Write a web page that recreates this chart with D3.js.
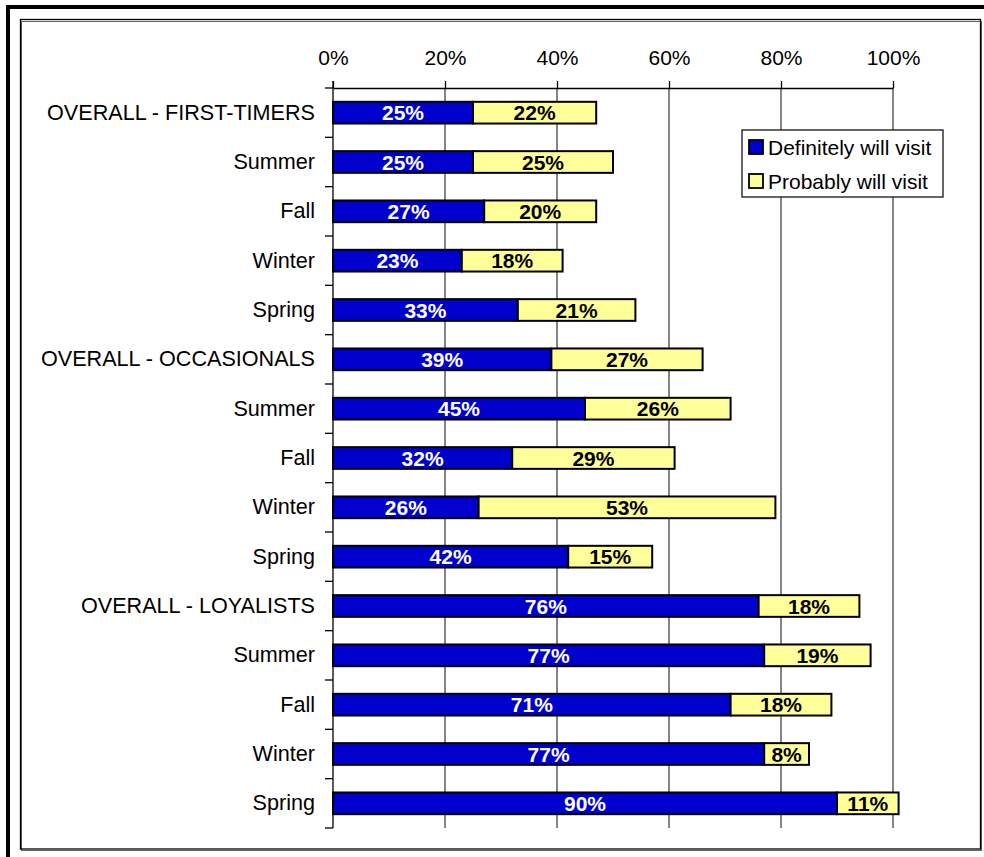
<!DOCTYPE html>
<html>
<head>
<meta charset="utf-8">
<script src="https://cdn.jsdelivr.net/npm/d3@7"></script>
<style>
  html, body { margin: 0; padding: 0; background: #fff; }
  svg { display: block; font-family: "Liberation Sans", Arial, sans-serif; }
</style>
</head>
<body>
<svg id="chart" width="984" height="857"></svg>
<script>
// Visit intention by segment and season
const categories = [
  "OVERALL - FIRST-TIMERS", "Summer", "Fall", "Winter", "Spring",
  "OVERALL - OCCASIONALS", "Summer", "Fall", "Winter", "Spring",
  "OVERALL - LOYALISTS", "Summer", "Fall", "Winter", "Spring"
];
const definitely = [25, 25, 27, 23, 33, 39, 45, 32, 26, 42, 76, 77, 71, 77, 90];
const probably   = [22, 25, 20, 18, 21, 27, 26, 29, 53, 15, 18, 19, 18, 8, 11];
const seriesNames = ["Definitely will visit", "Probably will visit"];
const tickValues = [0, 20, 40, 60, 80, 100];

const colors = ["#0000CC", "#FFFF99"];
const labelColors = ["#FFFFFF", "#000000"];

const svg = d3.select("#chart");
const plot = { left: 333, right: 893, top: 88, bottom: 828 };

// Frames
svg.append("line").attr("x1", 8).attr("y1", 7).attr("x2", 984).attr("y2", 7)
  .attr("stroke", "#000").attr("stroke-width", 4);
svg.append("line").attr("x1", 8).attr("y1", 5).attr("x2", 8).attr("y2", 857)
  .attr("stroke", "#000").attr("stroke-width", 4);
svg.append("rect").attr("x", 21.5).attr("y", 21.5).attr("width", 960).attr("height", 829)
  .attr("fill", "none").attr("stroke", "#666").attr("stroke-width", 1);
svg.append("rect").attr("x", 20.5).attr("y", 19.5).attr("width", 960).attr("height", 829.5)
  .attr("fill", "none").attr("stroke", "#000").attr("stroke-width", 1.3);

const x = d3.scaleLinear().domain([0, 100]).range([plot.left, plot.right]);
const y = d3.scaleBand()
  .domain(d3.range(categories.length))
  .range([plot.top, plot.bottom])
  .paddingInner(0.56)
  .paddingOuter(0.28);

// Vertical gridlines
svg.append("g").selectAll("line")
  .data(tickValues.filter(d => d > 0))
  .join("line")
  .attr("x1", d => x(d)).attr("x2", d => x(d))
  .attr("y1", plot.top).attr("y2", plot.bottom)
  .attr("stroke", "#333").attr("stroke-width", 1.2);

// Top value axis
const xAxis = svg.append("g")
  .attr("transform", `translate(0,${plot.top})`)
  .call(d3.axisTop(x).tickValues(tickValues).tickFormat(d => d + "%").tickSize(7).tickPadding(16).tickSizeOuter(0));
xAxis.select(".domain").attr("stroke", "#000").attr("stroke-width", 1.3);
xAxis.selectAll(".tick line").attr("stroke", "#000").attr("stroke-width", 1.3);
xAxis.selectAll(".tick text").attr("font-size", 21).attr("fill", "#000")
  .attr("font-family", "'Liberation Sans', Arial, sans-serif");

// Category axis: labels at band centres
const yAxis = svg.append("g")
  .attr("transform", `translate(${plot.left},0)`)
  .call(d3.axisLeft(y).tickFormat(i => categories[i]).tickSize(0).tickPadding(18));
yAxis.select(".domain").remove();
yAxis.selectAll(".tick text").attr("font-size", 21.6).attr("fill", "#000")
  .attr("font-family", "'Liberation Sans', Arial, sans-serif");

// Category axis line with ticks on band boundaries
const gap = (y.step() - y.bandwidth()) / 2;
const boundaries = d3.range(categories.length).map(i => y(i) - gap)
  .concat([y(categories.length - 1) + y.bandwidth() + gap]);
svg.append("line")
  .attr("x1", plot.left).attr("x2", plot.left)
  .attr("y1", plot.top - 7).attr("y2", plot.bottom)
  .attr("stroke", "#000").attr("stroke-width", 1.3);
svg.append("g").selectAll("line")
  .data(boundaries)
  .join("line")
  .attr("x1", plot.left - 8).attr("x2", plot.left)
  .attr("y1", d => d).attr("y2", d => d)
  .attr("stroke", "#000").attr("stroke-width", 1.3);

// Stacked bars
const rows = categories.map((c, i) => ({ i, definitely: definitely[i], probably: probably[i] }));
const stack = d3.stack().keys(["definitely", "probably"]);
const layers = stack(rows);

const layerG = svg.append("g").selectAll("g")
  .data(layers)
  .join("g")
  .attr("fill", (d, k) => colors[k]);

layerG.selectAll("rect")
  .data(d => d)
  .join("rect")
  .attr("x", d => x(d[0]))
  .attr("y", d => y(d.data.i))
  .attr("width", d => x(d[1]) - x(d[0]))
  .attr("height", y.bandwidth())
  .attr("stroke", "#000")
  .attr("stroke-width", 2);

// Value labels centred in each segment
svg.append("g").selectAll("g")
  .data(layers)
  .join("g")
  .attr("fill", (d, k) => labelColors[k])
  .selectAll("text")
  .data(d => d)
  .join("text")
  .attr("x", d => (x(d[0]) + x(d[1])) / 2)
  .attr("y", d => y(d.data.i) + y.bandwidth() / 2)
  .attr("dy", "0.36em")
  .attr("text-anchor", "middle")
  .attr("font-size", 21)
  .attr("font-weight", "bold")
  .text(d => (d[1] - d[0]) + "%");

// Legend
const legend = svg.append("g").attr("transform", "translate(742,130)");
legend.append("rect").attr("width", 201).attr("height", 67)
  .attr("fill", "#fff").attr("stroke", "#000").attr("stroke-width", 1.2);
const items = legend.selectAll("g.item")
  .data(seriesNames)
  .join("g")
  .attr("class", "item")
  .attr("transform", (d, k) => `translate(7,${10 + k * 34})`);
items.append("rect").attr("width", 14).attr("height", 14)
  .attr("fill", (d, k) => colors[k]).attr("stroke", "#000").attr("stroke-width", 1.8);
items.append("text").attr("x", 19).attr("y", 14.5)
  .attr("font-size", 21).attr("fill", "#000")
  .text(d => d);
</script>
</body>
</html>
